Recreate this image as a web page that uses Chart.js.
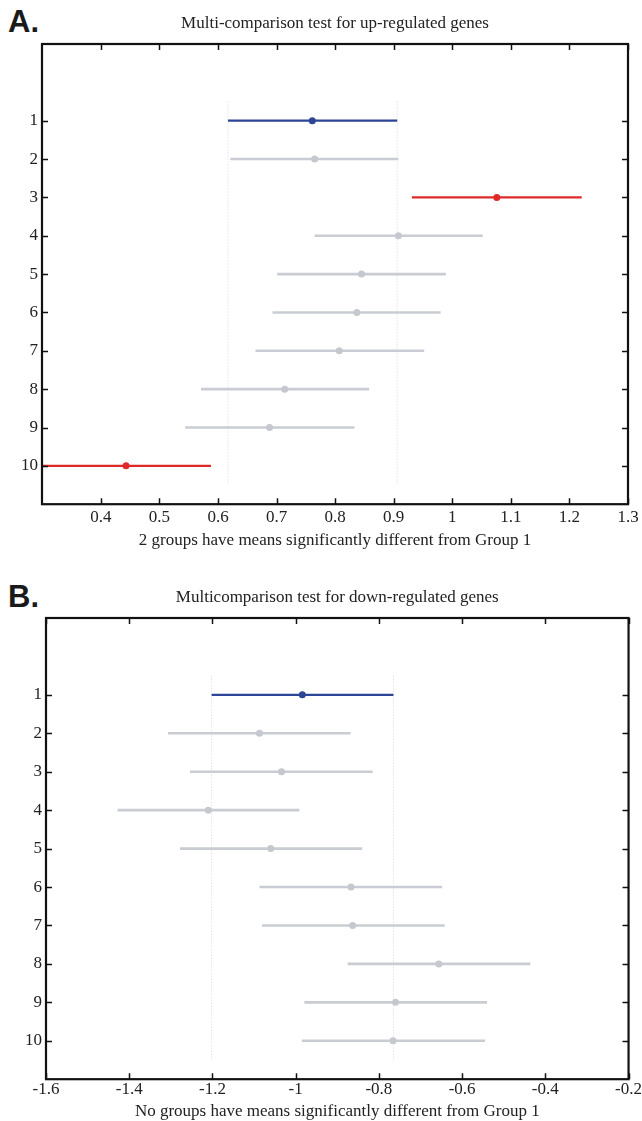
<!DOCTYPE html>
<html><head><meta charset="utf-8">
<script src="https://cdn.jsdelivr.net/npm/chart.js@4.4.1/dist/chart.umd.min.js"></script>
<style>
html,body{margin:0;padding:0;background:#fff;}
body{width:642px;height:1121px;position:relative;overflow:hidden;}
.lab{position:absolute;font-family:"Liberation Sans",Arial,sans-serif;font-weight:bold;font-size:31px;line-height:31px;color:#1a1a1a;}
#wa{position:absolute;left:0;top:0;width:642px;height:560px;}
#wb{position:absolute;left:0;top:560px;width:642px;height:561px;}
</style></head><body>
<div class="lab" style="left:8px;top:6px">A.</div>
<div class="lab" style="left:8px;top:581px">B.</div>
<div id="wa"><canvas id="ca" width="642" height="560"></canvas></div>
<div id="wb"><canvas id="cb" width="642" height="561"></canvas></div>
<script>
// ---- data ----
const groupNums = [1, 2, 3, 4, 5, 6, 7, 8, 9, 10];
const groupTicks = [1, 2, 3, 4, 5, 6, 7, 8, 9, 10];

const upMeans = [0.761, 0.765, 1.076, 0.908, 0.845, 0.837, 0.807, 0.714, 0.688, 0.443];
const upLower = [0.617, 0.621, 0.931, 0.765, 0.701, 0.693, 0.664, 0.571, 0.544, 0.298];
const upUpper = [0.906, 0.908, 1.221, 1.052, 0.989, 0.980, 0.952, 0.858, 0.833, 0.588];
const upSignificant = [3, 10];
const upXTicks = [0.4, 0.5, 0.6, 0.7, 0.8, 0.9, 1.0, 1.1, 1.2, 1.3];

const downMeans = [-0.984, -1.087, -1.034, -1.210, -1.060, -0.867, -0.863, -0.656, -0.760, -0.766];
const downLower = [-1.202, -1.307, -1.254, -1.428, -1.278, -1.087, -1.081, -0.875, -0.979, -0.985];
const downUpper = [-0.765, -0.868, -0.815, -0.991, -0.840, -0.648, -0.642, -0.436, -0.540, -0.545];
const downSignificant = [];
const downXTicks = [-1.6, -1.4, -1.2, -1.0, -0.8, -0.6, -0.4, -0.2];

// ---- styling ----
const BLUE = '#2c4596', RED = '#e02a2a', GRAY = '#c9ccd3', GRAYDOT = '#c5c8cf', DOTLINE = '#d6d6d6';
const SERIF = '"Liberation Serif","Times New Roman",serif';
const FS = 17;

const framePlugin = {
  id: 'frame',
  afterDraw(chart) {
    const {ctx, chartArea: {left, right, top, bottom}, scales: {x, y}} = chart;
    ctx.save();
    ctx.strokeStyle = '#111';
    ctx.lineWidth = 1.5;
    ctx.beginPath();
    x.ticks.forEach(t => {
      const px = Math.round(x.getPixelForValue(t.value)) + 0.5;
      ctx.moveTo(px, bottom); ctx.lineTo(px, bottom - 6);
      ctx.moveTo(px, top); ctx.lineTo(px, top + 6);
    });
    y.ticks.forEach(t => {
      const py = Math.round(y.getPixelForValue(t.value)) + 0.5;
      ctx.moveTo(left, py); ctx.lineTo(left + 6, py);
      ctx.moveTo(right, py); ctx.lineTo(right - 6, py);
    });
    ctx.stroke();
    ctx.lineWidth = 2.2;
    ctx.strokeRect(left, top, right - left, bottom - top);
    ctx.restore();
  }
};

function fmt(v) { return String(Math.round(v * 100) / 100); }

function makeChart(id, cfg) {
  const colorFor = g => g === 1 ? BLUE : (cfg.sig.includes(g) ? RED : GRAY);
  const dotFor = g => g === 1 ? BLUE : (cfg.sig.includes(g) ? RED : GRAYDOT);
  const datasets = [];
  // reference lines at the bounds of group 1's interval
  [cfg.lower[0], cfg.upper[0]].forEach(v => datasets.push({
    type: 'line', data: [{x: v, y: 0.5}, {x: v, y: 10.5}],
    borderColor: DOTLINE, borderWidth: 1, borderDash: [1, 2], pointRadius: 0, order: 5
  }));
  groupNums.forEach((g, i) => datasets.push({
    type: 'line', data: [{x: cfg.lower[i], y: g}, {x: cfg.upper[i], y: g}],
    borderColor: colorFor(g), borderWidth: (g === 1 || cfg.sig.includes(g)) ? 2.2 : 2.6,
    pointRadius: 0, order: 3
  }));
  datasets.push({
    type: 'scatter', data: groupNums.map((g, i) => ({x: cfg.means[i], y: g})),
    pointBackgroundColor: groupNums.map(dotFor), pointBorderColor: groupNums.map(dotFor),
    pointRadius: 3.5, pointBorderWidth: 0, showLine: false, order: 1
  });
  return new Chart(document.getElementById(id), {
    type: 'line',
    data: {datasets},
    plugins: [framePlugin],
    options: {
      responsive: false, animation: false, devicePixelRatio: 1,
      layout: {padding: {left: 0, right: cfg.padRight, top: 0, bottom: cfg.padBottom}},
      plugins: {
        legend: {display: false}, tooltip: {enabled: false},
        title: {display: true, text: cfg.title, fullSize: false, color: '#222',
          font: {family: SERIF, size: FS, weight: 'normal'}, padding: cfg.titlePad}
      },
      scales: {
        x: {
          type: 'linear', position: 'bottom', min: cfg.xmin, max: cfg.xmax,
          afterBuildTicks: s => { s.ticks = cfg.xticks.map(v => ({value: v})); },
          grid: {display: false, drawTicks: false}, border: {display: false},
          ticks: {color: '#222', font: {family: SERIF, size: FS}, padding: cfg.xTickPad,
            maxRotation: 0, autoSkip: false, callback: v => fmt(v)},
          title: {display: true, text: cfg.xlabel, color: '#222',
            font: {family: SERIF, size: FS}, padding: cfg.xTitlePad}
        },
        y: {
          type: 'linear', min: -1, max: 11, reverse: true,
          afterBuildTicks: s => { s.ticks = groupTicks.map(v => ({value: v})); },
          afterFit: s => { s.width = cfg.yWidth; },
          grid: {display: false, drawTicks: false}, border: {display: false},
          ticks: {color: '#222', font: {family: SERIF, size: FS}, padding: 4, autoSkip: false,
            callback: v => fmt(v)}
        }
      }
    }
  });
}

makeChart('ca', {
  title: 'Multi-comparison test for up-regulated genes',
  xlabel: '2 groups have means significantly different from Group 1',
  means: upMeans, lower: upLower, upper: upUpper, sig: upSignificant,
  xticks: upXTicks, xmin: 0.2995, xmax: 1.3,
  yWidth: 42, padRight: 14, padBottom: 5,
  titlePad: {top: 13, bottom: 10.6}, xTickPad: 3, xTitlePad: {top: 0, bottom: 4}
});
makeChart('cb', {
  title: 'Multicomparison test for down-regulated genes',
  xlabel: 'No groups have means significantly different from Group 1',
  means: downMeans, lower: downLower, upper: downUpper, sig: downSignificant,
  xticks: downXTicks, xmin: -1.6, xmax: -0.2,
  yWidth: 46, padRight: 10, padBottom: -1,
  titlePad: {top: 27, bottom: 10.6}, xTickPad: 0, xTitlePad: {top: 2, bottom: 0}
});
</script>
</body></html>
